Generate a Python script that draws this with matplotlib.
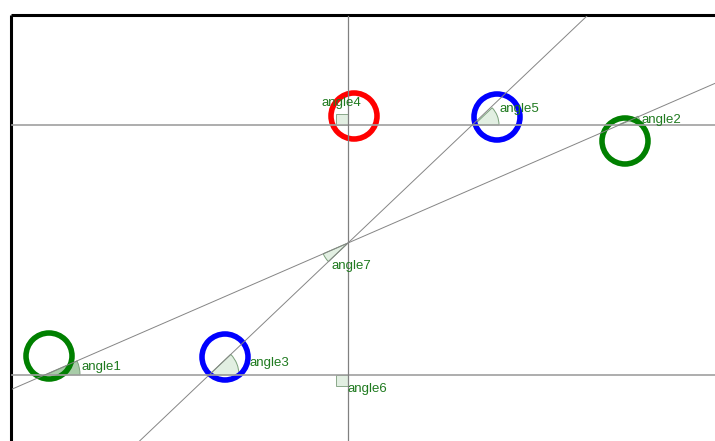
import numpy as np
import matplotlib
matplotlib.use('Agg')
import matplotlib.pyplot as plt
from matplotlib.patches import Circle, Wedge, Rectangle

# geometry in screen pixels (y grows downward)
h_lines_y = [125, 375]
v_line_x = 348
cross = (348, 243)
diag_slopes = [-0.435, -0.95]   # shallow line, steep line

# angle markers: name, vertex, start/end angle (deg, visual), radius
arc_names = ['angle1', 'angle2', 'angle3', 'angle5', 'angle7']
arc_vx = [45, 618, 209, 474, 348]
arc_vy = [375, 125, 375, 125, 243]
arc_a1 = [0, 0, 0, 0, 203.5]
arc_a2 = [23.5, 23.5, 43.5, 43.5, 223.5]
arc_r = [35, 22, 30, 25, 27]

sq_names = ['angle4', 'angle6']
sq_x = [336, 336]
sq_y = [114, 375]

label_names = ['angle1', 'angle2', 'angle3', 'angle4', 'angle5', 'angle6', 'angle7']
label_x = [82, 641, 249, 322, 499, 348, 331]
label_y = [367, 120, 363, 103, 109, 389, 266]

circle_x = [354, 497, 625, 49, 225]
circle_y = [116, 117, 141, 356, 357]
circle_c = ['#ff0000', '#0000ff', '#008000', '#008000', '#0000ff']

fig = plt.figure(figsize=(7.15, 4.41), dpi=100)
ax = fig.add_axes([0, 0, 1, 1])
ax.set_xlim(0, 715)
ax.set_ylim(441, 0)
ax.set_aspect('equal')
ax.axis('off')

# frame (only top and left visible)
ax.plot([11, 715], [15, 15], color='black', lw=2.2, solid_capstyle='butt')
ax.plot([11, 11], [15, 441], color='black', lw=2.2, solid_capstyle='butt')

for y in h_lines_y:
    ax.plot([12, 715], [y, y], color='#a0a0a0', lw=1.2)
ax.plot([v_line_x, v_line_x], [16, 441], color='#808080', lw=0.9)

clip = Rectangle((12, 16), 703, 425, transform=ax.transData)
xs = np.array([12, 715])
for m in diag_slopes:
    ys = cross[1] + m * (xs - cross[0])
    ln, = ax.plot(xs, ys, color='#858585', lw=0.7)
    ln.set_clip_path(clip)

for i in range(len(arc_names)):
    face = '#a8cca8' if arc_names[i] == 'angle1' else '#e2efe2'
    w = Wedge((arc_vx[i], arc_vy[i]), arc_r[i], -arc_a2[i], -arc_a1[i],
              facecolor=face, edgecolor='#7aa07a', lw=0.7)
    ax.add_patch(w)

for i in range(len(sq_names)):
    ax.add_patch(Rectangle((sq_x[i], sq_y[i]), 12, 11, facecolor='#e2efe2',
                           edgecolor='#8aa88a', lw=0.7))

for i in range(len(label_names)):
    ax.text(label_x[i], label_y[i], label_names[i], color='#1f7a1f',
            fontsize=9.5, family='Liberation Sans', ha='left', va='center')

for i in range(len(circle_x)):
    ax.add_patch(Circle((circle_x[i], circle_y[i]), 23, fill=False,
                        edgecolor=circle_c[i], lw=4))

fig.savefig('out.png', dpi=100)
